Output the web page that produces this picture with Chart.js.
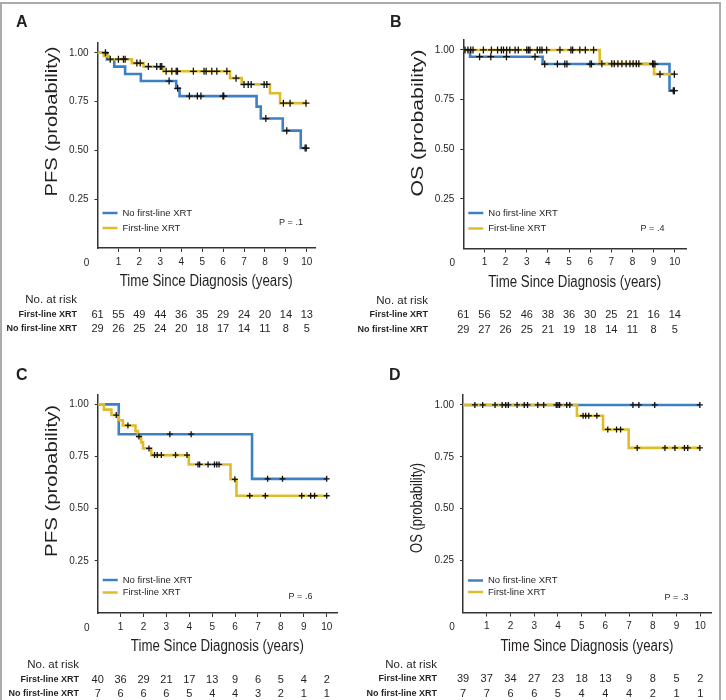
<!DOCTYPE html>
<html>
<head>
<meta charset="utf-8">
<script src="https://cdn.jsdelivr.net/npm/chart.js@4.4.1/dist/chart.umd.min.js"></script>
<style>
  html, body { margin: 0; padding: 0; background: #fff; }
  #fig { position: relative; width: 726px; height: 700px; overflow: hidden; }
  #frame { position: absolute; left: 0; top: 2px; width: 721px; height: 760px; border: 2px solid #ababab; box-sizing: border-box; }
  #fig canvas { position: absolute; left: 0; top: 0; }
</style>
</head>
<body>
<div id="fig">
  <div id="frame"></div>
  <canvas id="panelA" width="726" height="700"></canvas>
  <canvas id="panelB" width="726" height="700"></canvas>
  <canvas id="panelC" width="726" height="700"></canvas>
  <canvas id="panelD" width="726" height="700"></canvas>
</div>
<script>
// shared axis ticks and risk-table columns
const xTicks = [1, 2, 3, 4, 5, 6, 7, 8, 9, 10];
const yTicks = [0.25, 0.50, 0.75, 1.00];
const riskTimes = [0, 1, 2, 3, 4, 5, 6, 7, 8, 9, 10];
const groupNames = ['No first-line XRT', 'First-line XRT'];
const riskRowNames = ['First-line XRT', 'No first-line XRT'];

// A - PFS, all patients
const aBlueT = [0, 0.45, 0.8, 1.32, 2.07, 3.76, 3.92, 7.6, 7.8, 8.85, 9.71];
const aBlueS = [1, 0.966, 0.929, 0.891, 0.855, 0.818, 0.778, 0.724, 0.663, 0.601, 0.512];
const aBlueCens = [0.38, 3.42, 3.83, 4.39, 4.77, 4.94, 5.99, 6.03, 8.04, 9.04, 9.92, 9.97];
const aGoldT = [0, 0.3, 0.53, 1.64, 2.2, 3.15, 6.33, 6.89, 8.24, 8.72];
const aGoldS = [1, 0.984, 0.967, 0.947, 0.929, 0.905, 0.870, 0.838, 0.793, 0.742];
const aGoldCens = [0.61, 1.0, 1.24, 1.32, 1.88, 2.04, 2.43, 2.83, 3.0, 3.07, 3.28, 3.55, 3.76, 3.82, 4.58, 5.09, 5.19, 5.46, 5.7, 6.18, 6.62, 7.0, 7.2, 7.34, 7.96, 8.09, 8.88, 9.2, 9.96];
const aRiskFirst = [61, 55, 49, 44, 36, 35, 29, 24, 20, 14, 13];
const aRiskNo = [29, 26, 25, 24, 20, 18, 17, 14, 11, 8, 5];

// B - OS, all patients
const bBlueT = [0, 0.32, 3.75, 9.75];
const bBlueS = [1, 0.966, 0.929, 0.795];
const bBlueCens = [0.77, 1.3, 2.04, 3.39, 3.85, 4.45, 4.8, 4.9, 5.99, 6.06, 8.98, 9.06, 9.93, 9.98];
const bGoldT = [0, 6.45, 9.02];
const bGoldS = [1, 0.93, 0.878];
const bGoldCens = [0.08, 0.22, 0.35, 0.46, 0.95, 1.33, 1.62, 1.8, 1.9, 2.05, 2.2, 2.45, 2.6, 3.0, 3.08, 3.15, 3.5, 3.62, 3.72, 3.94, 4.57, 5.09, 5.17, 5.51, 5.77, 6.16, 6.55, 7.02, 7.14, 7.31, 7.5, 7.7, 7.88, 8.03, 8.18, 8.3, 8.95, 9.3, 9.98];
const bRiskFirst = [61, 56, 52, 46, 38, 36, 30, 25, 21, 16, 14];
const bRiskNo = [29, 27, 26, 25, 21, 19, 18, 14, 11, 8, 5];

// C - PFS, subgroup
const cBlueT = [0, 0.92, 6.74];
const cBlueS = [1, 0.857, 0.643];
const cBlueCens = [3.15, 4.08, 7.42, 8.07, 10.0];
const cGoldT = [0, 0.27, 0.6, 0.92, 1.1, 1.65, 1.76, 1.9, 1.98, 2.34, 3.98, 5.8, 6.06];
const cGoldS = [1, 0.975, 0.949, 0.924, 0.899, 0.872, 0.846, 0.818, 0.789, 0.757, 0.712, 0.641, 0.562];
const cGoldCens = [0.81, 1.32, 1.8, 2.24, 2.48, 2.6, 2.78, 3.4, 3.9, 4.38, 4.45, 4.82, 5.1, 5.2, 5.3, 5.99, 6.64, 7.32, 8.91, 9.3, 9.47, 10.0];
const cRiskFirst = [40, 36, 29, 21, 17, 13, 9, 6, 5, 4, 2];
const cRiskNo = [7, 6, 6, 6, 5, 4, 4, 3, 2, 1, 1];

// D - OS, subgroup
const dBlueT = [0];
const dBlueS = [1];
const dBlueCens = [7.16, 7.41, 8.08, 9.98];
const dGoldT = [0, 4.8, 5.9, 6.98];
const dGoldS = [1, 0.948, 0.882, 0.793];
const dGoldCens = [0.5, 0.83, 1.35, 1.65, 1.8, 1.91, 2.28, 2.58, 2.72, 3.15, 3.4, 3.93, 4.0, 4.07, 4.37, 4.5, 5.06, 5.17, 5.3, 5.64, 6.1, 6.47, 6.64, 7.34, 8.51, 8.93, 9.33, 9.47, 9.98];
const dRiskFirst = [39, 37, 34, 27, 23, 18, 13, 9, 8, 5, 2];
const dRiskNo = [7, 7, 6, 6, 5, 4, 4, 4, 2, 1, 1];

const blue = '#3e80c4';
const gold = '#dfbc2c';
const ink = '#231f20';
const endTime = 10.0;
const sans = '"Liberation Sans", Arial, sans-serif';

function stepAt(T, S, t){
  let v = S[0];
  for (let i = 0; i < T.length; i++){ if (T[i] <= t) v = S[i]; }
  return v;
}

function curve(T, S){
  let pts = T.map((t, i) => ({x: t, y: S[i]}));
  pts.push({x: endTime, y: S[S.length - 1]});
  return pts;
}

function marks(T, S, cens){
  return cens.map(t => ({x: t, y: stepAt(T, S, t)}));
}

// condensed look: draw the text squeezed/stretched to a given length
function fitText(ctx, text, x, y, len){
  let w = ctx.measureText(text).width;
  ctx.save();
  ctx.translate(x, y);
  ctx.scale(len / w, 1);
  ctx.fillText(text, 0, 0);
  ctx.restore();
}

// text layer: panel letter, axis titles, inner legend, p value, risk table
const kmText = {
  id: 'kmText',
  afterDraw(chart, args, o){
    const ctx = chart.ctx, a = chart.chartArea, xs = chart.scales.x, ys = chart.scales.y;
    ctx.save();
    ctx.fillStyle = ink;
    ctx.textBaseline = 'middle';

    ctx.textAlign = 'left';
    ctx.font = 'bold 16px ' + sans;
    ctx.fillText(o.letter, o.letterPos[0], o.letterPos[1]);

    ctx.textAlign = 'center';
    ctx.font = '10px ' + sans;
    ctx.fillText('0', a.left - 11, a.bottom + 15);

    ctx.font = '16px ' + sans;
    fitText(ctx, 'Time Since Diagnosis (years)', (a.left + a.right) / 2, a.bottom + 34, 173);

    ctx.save();
    ctx.translate(a.left - 45, ys.getPixelForValue(o.yTitleAt));
    ctx.rotate(-Math.PI / 2);
    ctx.font = '16px ' + sans;
    fitText(ctx, o.yTitle, 0, 0, o.yTitleLen);
    ctx.restore();

    // legend inside the plot
    ctx.font = '9.5px ' + sans;
    ctx.textAlign = 'left';
    [blue, gold].forEach((c, i) => {
      let y = a.bottom - o.legendRows[i];
      ctx.strokeStyle = c;
      ctx.lineWidth = 2.5;
      ctx.beginPath();
      ctx.moveTo(a.left + 5, y);
      ctx.lineTo(a.left + 20, y);
      ctx.stroke();
      ctx.fillText(groupNames[i], a.left + 25, y);
    });

    ctx.font = '9px ' + sans;
    ctx.textAlign = 'center';
    ctx.fillText('P = ' + o.pValue, o.pPos[0], o.pPos[1]);

    // number at risk
    ctx.textAlign = 'right';
    ctx.font = '11.5px ' + sans;
    ctx.fillText('No. at risk', o.riskRight, a.bottom + 52);
    ctx.font = 'bold 9px ' + sans;
    ctx.fillText(riskRowNames[0], o.riskRight, a.bottom + 66.5);
    ctx.fillText(riskRowNames[1], o.riskRight, a.bottom + 81);
    ctx.textAlign = 'center';
    ctx.font = '11px ' + sans;
    o.risk.forEach((row, r) => {
      row.forEach((n, i) => {
        ctx.fillText(String(n), xs.getPixelForValue(riskTimes[i]), a.bottom + 66.5 + r * 14.5);
      });
    });
    ctx.restore();
  }
};

function drawPanel(id, p){
  const yW = 40, xH = 22;
  new Chart(id, {
    type: 'line',
    data: {
      datasets: [
        { data: marks(p.blueT, p.blueS, p.blueCens), showLine: false, pointStyle: 'cross', pointRadius: p.markR, borderColor: '#111', borderWidth: 1.3 },
        { data: marks(p.goldT, p.goldS, p.goldCens), showLine: false, pointStyle: 'cross', pointRadius: p.markR, borderColor: '#111', borderWidth: 1.3 },
        { data: curve(p.goldT, p.goldS), stepped: true, borderColor: gold, borderWidth: 2.6, pointRadius: 0, fill: false },
        { data: curve(p.blueT, p.blueS), stepped: true, borderColor: blue, borderWidth: 2.6, pointRadius: 0, fill: false }
      ]
    },
    options: {
      responsive: false,
      animation: false,
      events: [],
      layout: {
        padding: { left: p.area.l - yW, top: p.area.t, right: 726 - p.area.r, bottom: 700 - p.area.b - xH }
      },
      plugins: {
        legend: { display: false },
        tooltip: { enabled: false },
        kmText: {
          letter: p.letter, letterPos: p.letterPos, yTitle: p.yTitle, yTitleLen: p.yTitleLen, yTitleAt: p.yTitleAt,
          legendRows: p.legendRows, pValue: p.pValue, pPos: p.pPos,
          riskRight: p.riskRight, risk: [p.riskFirst, p.riskNo]
        }
      },
      scales: {
        x: {
          type: 'linear', min: 0, max: p.xMax,
          afterBuildTicks: s => { s.ticks = xTicks.map(v => ({value: v})); },
          afterFit: s => { s.height = xH; },
          grid: { drawOnChartArea: false, drawTicks: true, tickLength: 4, color: '#333', lineWidth: 1 },
          border: { color: '#333', width: 1.5 },
          ticks: { font: { family: sans, size: 10 }, color: ink, padding: 4, maxRotation: 0, autoSkip: false }
        },
        y: {
          type: 'linear', min: 0, max: p.yMax,
          afterBuildTicks: s => { s.ticks = yTicks.map(v => ({value: v})); },
          afterFit: s => { s.width = yW; },
          grid: { drawOnChartArea: false, drawTicks: true, tickLength: 3, color: '#333', lineWidth: 1 },
          border: { color: '#333', width: 1.5 },
          ticks: { font: { family: sans, size: 10 }, color: ink, padding: 6, callback: v => v.toFixed(2) }
        }
      }
    },
    plugins: [kmText]
  });
}

drawPanel('panelA', {
  letter: 'A', letterPos: [16, 23], yTitle: 'PFS (probability)', yTitleLen: 150, yTitleAt: 0.648, pValue: '.1',
  area: { l: 97.5, t: 43, r: 315, b: 248 }, xMax: 10.39, yMax: 1.05, markR: 3.5,
  legendRows: [35, 20], pPos: [291, 223], riskRight: 77,
  blueT: aBlueT, blueS: aBlueS, blueCens: aBlueCens, goldT: aGoldT, goldS: aGoldS, goldCens: aGoldCens,
  riskFirst: aRiskFirst, riskNo: aRiskNo
});
drawPanel('panelB', {
  letter: 'B', letterPos: [390, 23], yTitle: 'OS (probability)', yTitleLen: 147, yTitleAt: 0.632, pValue: '.4',
  area: { l: 463.3, t: 40, r: 686, b: 248.5 }, xMax: 10.53, yMax: 1.05, markR: 3.5,
  legendRows: [35.5, 20], pPos: [652.5, 229], riskRight: 428,
  blueT: bBlueT, blueS: bBlueS, blueCens: bBlueCens, goldT: bGoldT, goldS: bGoldS, goldCens: bGoldCens,
  riskFirst: bRiskFirst, riskNo: bRiskNo
});
drawPanel('panelC', {
  letter: 'C', letterPos: [16, 376], yTitle: 'PFS (probability)', yTitleLen: 152, yTitleAt: 0.633, pValue: '.6',
  area: { l: 97.7, t: 395, r: 337, b: 613 }, xMax: 10.45, yMax: 1.045, markR: 3,
  legendRows: [33, 20.5], pPos: [300.5, 597], riskRight: 79,
  blueT: cBlueT, blueS: cBlueS, blueCens: cBlueCens, goldT: cGoldT, goldS: cGoldS, goldCens: cGoldCens,
  riskFirst: cRiskFirst, riskNo: cRiskNo
});
drawPanel('panelD', {
  letter: 'D', letterPos: [389, 376], yTitle: 'OS (probability)', yTitleLen: 90, yTitleAt: 0.504, pValue: '.3',
  area: { l: 463, t: 395, r: 711, b: 612.5 }, xMax: 10.45, yMax: 1.048, markR: 3,
  legendRows: [32, 20.5], pPos: [676.5, 598], riskRight: 437,
  blueT: dBlueT, blueS: dBlueS, blueCens: dBlueCens, goldT: dGoldT, goldS: dGoldS, goldCens: dGoldCens,
  riskFirst: dRiskFirst, riskNo: dRiskNo
});
</script>
</body>
</html>
